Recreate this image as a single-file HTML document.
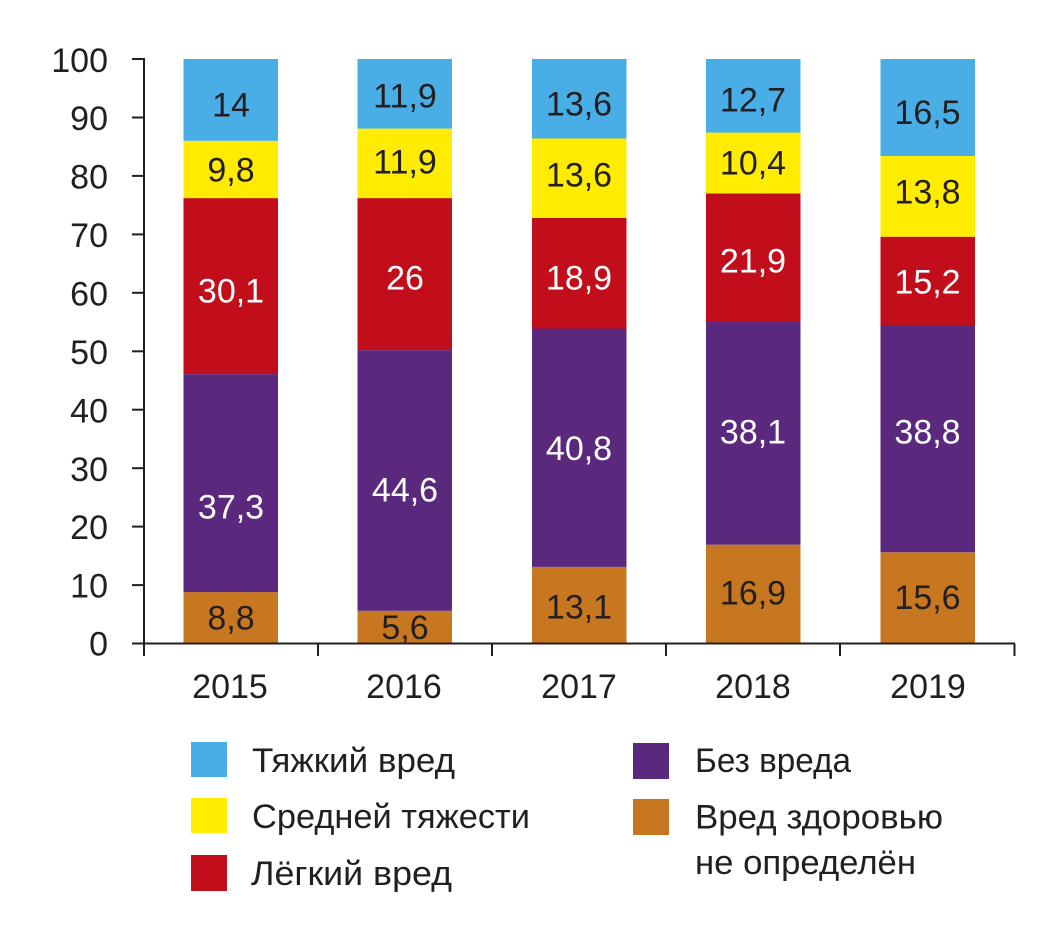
<!DOCTYPE html>
<html>
<head>
<meta charset="utf-8">
<style>
html,body{margin:0;padding:0;background:#fff;}
svg{display:block;}
text{font-family:"Liberation Sans","DejaVu Sans",sans-serif;fill:#231f20;}
</style>
</head>
<body>
<svg width="1062" height="925" viewBox="0 0 1062 925" xmlns="http://www.w3.org/2000/svg">
<!-- Bars: y(v)=643.5-5.845v -->
<!-- 2015 -->
<rect x="183.5" y="592.1" width="94.5" height="51.4" fill="#c87721"/>
<rect x="183.5" y="374.1" width="94.5" height="218.0" fill="#5a287d"/>
<rect x="183.5" y="198.1" width="94.5" height="176.0" fill="#c10e1a"/>
<rect x="183.5" y="140.8" width="94.5" height="57.3" fill="#ffec00"/>
<rect x="183.5" y="59" width="94.5" height="81.8" fill="#49aee6"/>
<!-- 2016 -->
<rect x="357.5" y="610.8" width="94.5" height="32.7" fill="#c87721"/>
<rect x="357.5" y="350.1" width="94.5" height="260.7" fill="#5a287d"/>
<rect x="357.5" y="198.1" width="94.5" height="152.0" fill="#c10e1a"/>
<rect x="357.5" y="128.6" width="94.5" height="69.5" fill="#ffec00"/>
<rect x="357.5" y="59" width="94.5" height="69.6" fill="#49aee6"/>
<!-- 2017 -->
<rect x="532" y="566.9" width="94.5" height="76.6" fill="#c87721"/>
<rect x="532" y="328.5" width="94.5" height="238.4" fill="#5a287d"/>
<rect x="532" y="218.0" width="94.5" height="110.5" fill="#c10e1a"/>
<rect x="532" y="138.5" width="94.5" height="79.5" fill="#ffec00"/>
<rect x="532" y="59" width="94.5" height="79.5" fill="#49aee6"/>
<!-- 2018 -->
<rect x="706" y="544.7" width="94.5" height="98.8" fill="#c87721"/>
<rect x="706" y="322.0" width="94.5" height="222.7" fill="#5a287d"/>
<rect x="706" y="193.4" width="94.5" height="128.6" fill="#c10e1a"/>
<rect x="706" y="132.6" width="94.5" height="60.8" fill="#ffec00"/>
<rect x="706" y="59" width="94.5" height="73.6" fill="#49aee6"/>
<!-- 2019 -->
<rect x="880.5" y="552.3" width="94.5" height="91.2" fill="#c87721"/>
<rect x="880.5" y="325.5" width="94.5" height="226.8" fill="#5a287d"/>
<rect x="880.5" y="236.7" width="94.5" height="88.8" fill="#c10e1a"/>
<rect x="880.5" y="156.0" width="94.5" height="80.7" fill="#ffec00"/>
<rect x="880.5" y="59" width="94.5" height="97.0" fill="#49aee6"/>

<!-- Axes -->
<g stroke="#231f20" stroke-width="2" fill="none">
<line x1="144" y1="58" x2="144" y2="656"/>
<line x1="143" y1="643.5" x2="1015" y2="643.5"/>
<line x1="132" y1="59" x2="144" y2="59"/>
<line x1="132" y1="117.5" x2="144" y2="117.5"/>
<line x1="132" y1="175.9" x2="144" y2="175.9"/>
<line x1="132" y1="234.4" x2="144" y2="234.4"/>
<line x1="132" y1="292.8" x2="144" y2="292.8"/>
<line x1="132" y1="351.3" x2="144" y2="351.3"/>
<line x1="132" y1="409.7" x2="144" y2="409.7"/>
<line x1="132" y1="468.2" x2="144" y2="468.2"/>
<line x1="132" y1="526.6" x2="144" y2="526.6"/>
<line x1="132" y1="585.1" x2="144" y2="585.1"/>
<line x1="132" y1="643.5" x2="144" y2="643.5"/>
<line x1="318" y1="643.5" x2="318" y2="656"/>
<line x1="492" y1="643.5" x2="492" y2="656"/>
<line x1="666" y1="643.5" x2="666" y2="656"/>
<line x1="840" y1="643.5" x2="840" y2="656"/>
<line x1="1014.5" y1="643.5" x2="1014.5" y2="656"/>
</g>

<!-- Y tick labels -->
<g font-size="34" text-anchor="end">
<text x="108" y="72">100</text>
<text x="108" y="130">90</text>
<text x="108" y="188.5">80</text>
<text x="108" y="247">70</text>
<text x="108" y="305.5">60</text>
<text x="108" y="364">50</text>
<text x="108" y="422.5">40</text>
<text x="108" y="481">30</text>
<text x="108" y="539">20</text>
<text x="108" y="597.5">10</text>
<text x="108" y="655.5">0</text>
</g>

<!-- X labels -->
<g font-size="34" text-anchor="middle">
<text x="230" y="698">2015</text>
<text x="404" y="698">2016</text>
<text x="579" y="698">2017</text>
<text x="753" y="698">2018</text>
<text x="928" y="698">2019</text>
</g>

<!-- Bar labels -->
<g font-size="34" text-anchor="middle">
<text x="231" y="116.7">14</text>
<text x="231" y="181.7">9,8</text>
<text x="231" y="302.7" fill="#fff" style="fill:#fff">30,1</text>
<text x="231" y="518.3" style="fill:#fff">37,3</text>
<text x="231" y="629.3">8,8</text>

<text x="405" y="107.3">11,9</text>
<text x="405" y="173.3">11,9</text>
<text x="405" y="289.5" style="fill:#fff">26</text>
<text x="405" y="501.7" style="fill:#fff">44,6</text>
<text x="405" y="639">5,6</text>

<text x="579" y="115.7">13,6</text>
<text x="579" y="186.7">13,6</text>
<text x="579" y="289.3" style="fill:#fff">18,9</text>
<text x="579" y="460" style="fill:#fff">40,8</text>
<text x="579" y="618.3">13,1</text>

<text x="753" y="111.7">12,7</text>
<text x="753" y="174.3">10,4</text>
<text x="753" y="272.7" style="fill:#fff">21,9</text>
<text x="753" y="443.3" style="fill:#fff">38,1</text>
<text x="753" y="604.6">16,9</text>

<text x="927.5" y="124">16,5</text>
<text x="927.5" y="203.3">13,8</text>
<text x="927.5" y="293.3" style="fill:#fff">15,2</text>
<text x="927.5" y="443.3" style="fill:#fff">38,8</text>
<text x="927.5" y="608.8">15,6</text>
</g>

<!-- Legend -->
<rect x="191" y="742" width="36" height="35" fill="#49aee6"/>
<rect x="191" y="798" width="36" height="35" fill="#ffec00"/>
<rect x="191" y="855" width="36" height="36" fill="#c10e1a"/>
<rect x="633" y="743" width="36" height="36" fill="#5a287d"/>
<rect x="633" y="799" width="36" height="36" fill="#c87721"/>

<g font-size="34">
<text x="252" y="772" textLength="203" lengthAdjust="spacingAndGlyphs">Тяжкий вред</text>
<text x="252" y="828" textLength="278" lengthAdjust="spacingAndGlyphs">Средней тяжести</text>
<text x="251" y="885" textLength="201" lengthAdjust="spacingAndGlyphs">Лёгкий вред</text>
<text x="695" y="772" textLength="156" lengthAdjust="spacingAndGlyphs">Без вреда</text>
<text x="695" y="828.3" textLength="248" lengthAdjust="spacingAndGlyphs">Вред здоровью</text>
<text x="695" y="874" textLength="221" lengthAdjust="spacingAndGlyphs">не определён</text>
</g>
</svg>
</body>
</html>
